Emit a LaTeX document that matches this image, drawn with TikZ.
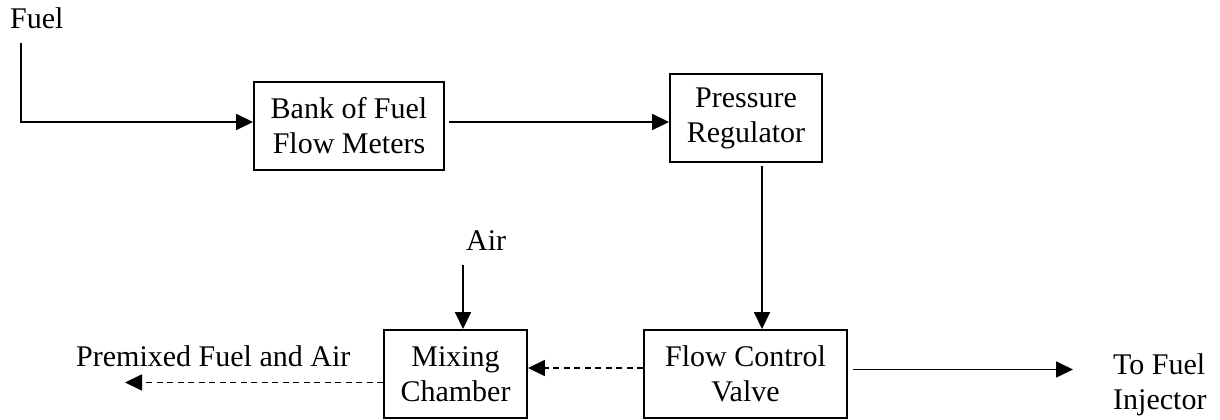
\documentclass[tikz,border=0pt]{standalone}
\usepackage{fontspec}
\setmainfont{Liberation Serif}
\usetikzlibrary{arrows.meta}
\begin{document}
\begin{tikzpicture}[x=1pt,y=1pt,
  every node/.style={font=\fontsize{30}{35}\selectfont},
  box/.style={draw, line width=1.9pt, inner sep=0pt, align=center},
  lbl/.style={inner sep=0pt},
  arr/.style={line width=1.7pt, -{Triangle[length=17pt,width=16pt]}},
  darr/.style={arr, dash pattern=on 6pt off 4.5pt}]
\useasboundingbox (0,0) rectangle (1220,420);
% labels
\node[lbl, anchor=base west] (fuel) at (10,391) {Fuel};
\node[lbl, anchor=base west] (air) at (466,169) {Air};
\node[lbl, anchor=base west] (premix) at (76,53) {Premixed Fuel and Air};
\node[lbl, anchor=north west, align=left] (inj) at (1113,67) {To Fuel\\Injector};
% boxes
\node[box, minimum width=190pt, minimum height=88pt] (bank) at (349,294) {Bank of Fuel\\Flow Meters};
\node[box, minimum width=152pt, minimum height=88pt] (press) at (746,302) {Pressure\\Regulator};
\node[box, minimum width=203pt, minimum height=88pt] (flow) at (745.5,46) {Flow Control\\Valve};
\node[box, minimum width=143pt, minimum height=88pt] (mix) at (455.5,46) {Mixing\\Chamber};
% free ends
\coordinate (fuelstart) at (21,377);
\coordinate (airstart) at (463,155);
\coordinate (injend) at (1073,50.5);
\coordinate (premixend) at (125,37.5);
% connectors
\draw[arr] (fuelstart) |- ([yshift=4pt]bank.west);
\draw[arr, shorten <=4pt] ([yshift=4pt]bank.east) -- ([yshift=-4pt]press.west);
\draw[arr, shorten <=3pt] ([xshift=16pt]press.south) -- ([xshift=16.5pt]flow.north);
\draw[arr, shorten <=5pt] ([yshift=4.5pt]flow.east) -- (injend);
\draw[darr] ([yshift=6pt]flow.west) -- ([yshift=6pt]mix.east);
\draw[darr] ([yshift=-8.5pt]mix.west) -- (premixend);
\draw[arr] (airstart) -- ([xshift=7.5pt]mix.north);
\end{tikzpicture}
\end{document}
